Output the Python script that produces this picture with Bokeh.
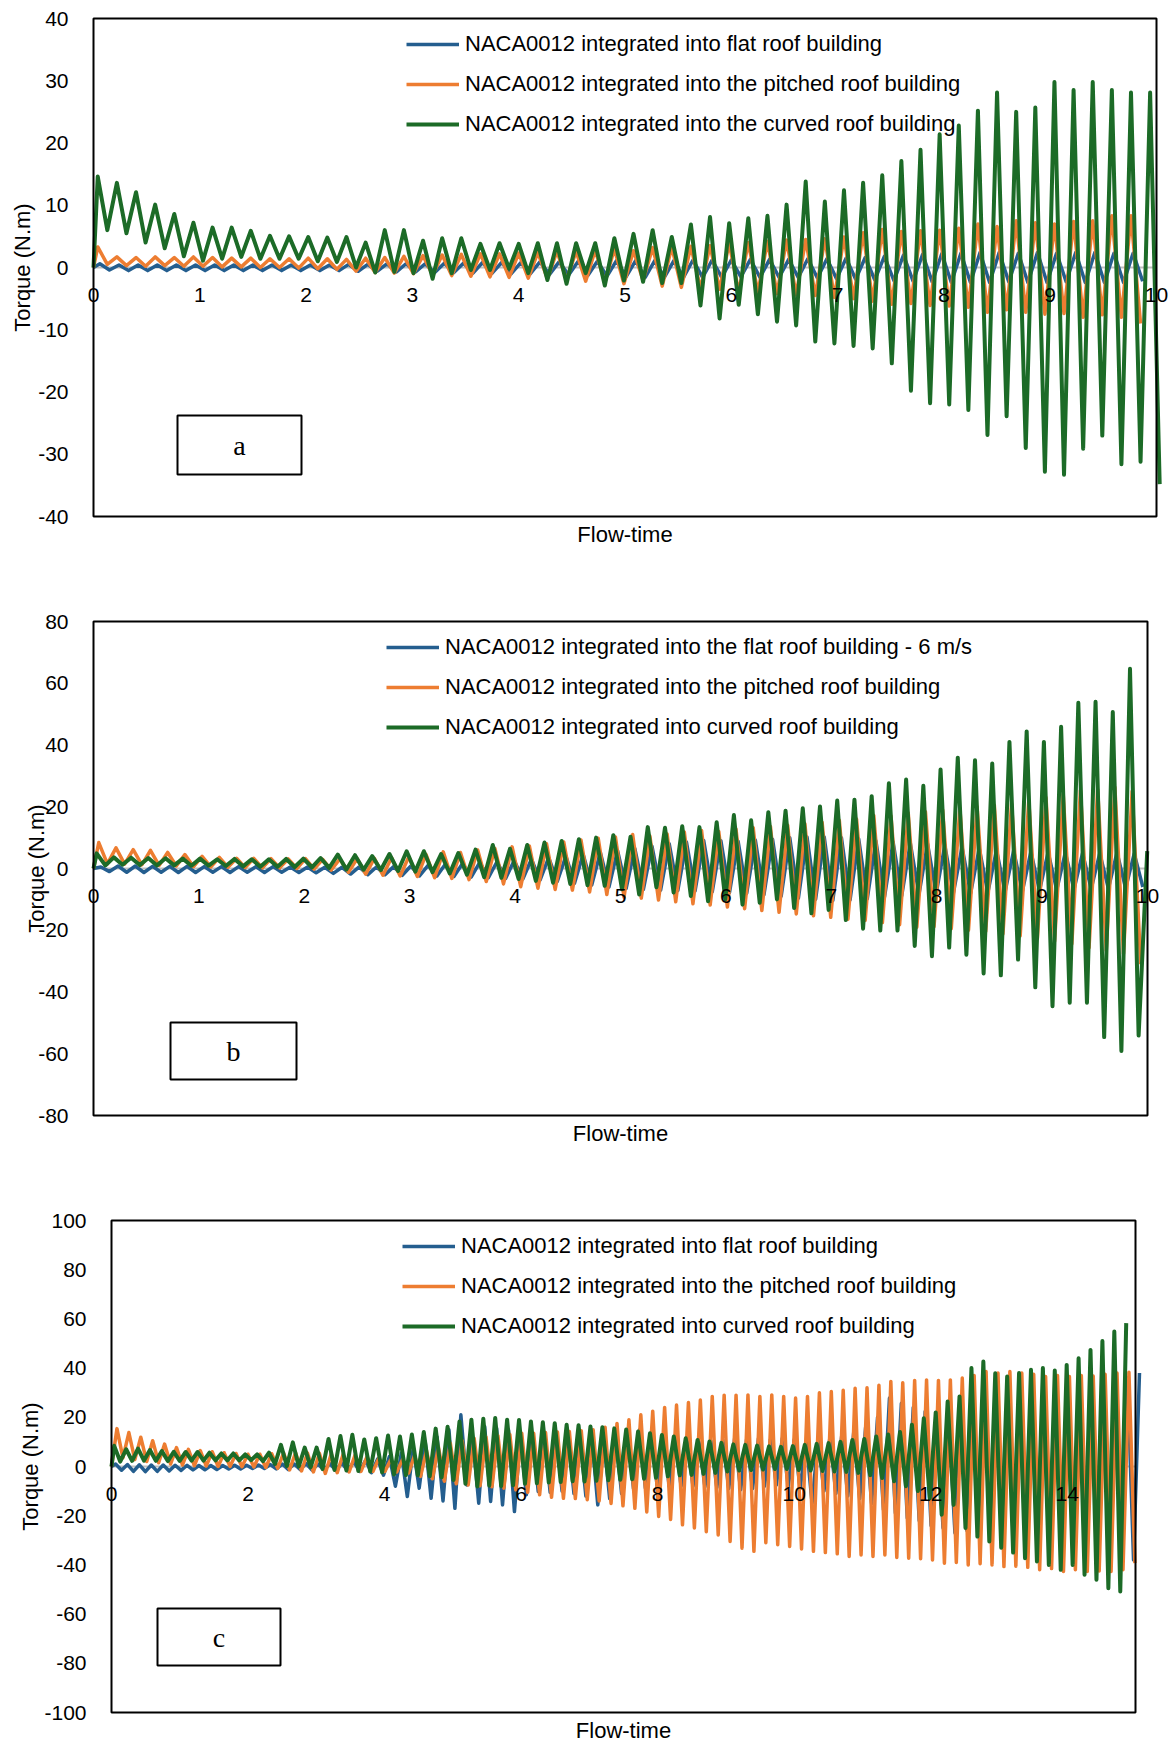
import numpy as np
from bokeh.plotting import figure
from bokeh.models import (Range1d, LinearAxis, FixedTicker, Legend, LegendItem,
                          BoxAnnotation, Label)
from bokeh.embed import file_html
from bokeh.resources import INLINE

# ---------------- data ----------------
# Each series: torque extremes at the solver's sampling of Flow-time
# (first value at t = 0, then one value every DT starting at T0).

# Panel a
A_X_TICKS = [0, 1, 2, 3, 4, 5, 6, 7, 8, 9, 10]
A_Y_TICKS = [-40, -30, -20, -10, 0, 10, 20, 30, 40]
A_DT = 0.09
A_T0 = {"flat": 0.06, "pitched": 0.04, "curved": 0.04}
A_FLAT = [0, 0.6, -0.4, 0.4, -0.5, 0.4, -0.5, 0.4, -0.5, 0.4, -0.5, 0.4, -0.5, 0.4, -0.5, 0.4, -0.5,
          0.4, -0.5, 0.4, -0.5, 0.4, -0.5, 0.4, -0.5, 0.4, -0.5, 0.5, -0.6, 0.5, -0.6, 0.6, -0.7, 0.6,
          -0.7, 0.6, -0.8, 0.7, -0.8, 0.7, -0.9, 0.8, -0.9, 0.8, -1.0, 0.8, -1.0, 0.9, -1.1, 0.9, -1.2,
          1.0, -1.3, 1.0, -1.4, 1.1, -1.5, 1.1, -1.6, 1.1, -1.6, 1.1, -1.6, 1.2, -1.6, 1.2, -1.6, 1.2,
          -1.5, 1.3, -1.6, 1.3, -1.6, 1.3, -1.6, 1.4, -1.7, 1.4, -1.8, 1.5, -1.9, 1.6, -2.0, 1.8, -2.1,
          2.0, -2.2, 2.1, -2.3, 2.2, -2.4, 2.3, -2.4, 2.4, -2.4, 2.4, -2.3, 2.3, -2.4, 2.4, -2.4, 2.3,
          -2.3, 2.4, -2.4, 2.4, -2.4, 2.3, -2.4, 2.3, -2.2]
A_PITCHED = [0, 3.3, 0.5, 1.7, 0.3, 1.6, 0.2, 1.7, 0.3, 1.6, 0.2, 1.7, 0.2, 1.6, 0.1, 1.5, 0.1, 1.5,
             0.0, 1.4, 0.0, 1.4, -0.1, 1.5, -0.2, 1.4, -0.3, 1.3, -0.6, 1.5, -0.8, 1.6, -0.9, 1.8,
             -1.0, 1.9, -1.2, 2.0, -1.3, 2.1, -1.4, 2.2, -1.5, 2.2, -1.6, 2.3, -1.7, 2.4, -1.8, 2.6,
             -2.0, 2.6, -2.2, 2.8, -2.4, 3.0, -2.6, 2.7, -2.1, 3.2, -3.0, 3.3, -3.2, 3.4, -3.4, 3.5,
             -3.5, 3.9, -3.9, 4.0, -4.0, 4.2, -4.2, 4.4, -4.4, 4.5, -4.5, 4.6, -4.8, 4.9, -5.0, 5.6,
             -5.4, 6.1, -5.9, 5.8, -5.8, 5.9, -6.1, 6.0, -6.2, 6.3, -6.4, 7.0, -7.2, 6.6, -6.8, 7.5,
             -7.2, 7.2, -7.5, 7.0, -7.4, 7.4, -8.0, 7.5, -7.6, 8.3, -8.0, 8.3, -9.0]
A_CURVED = [0, 14.6, 6.0, 13.6, 5.5, 12.1, 4.0, 10.1, 3.1, 8.6, 1.8, 7.2, 1.1, 6.4, 1.4, 6.4, 1.7,
            5.9, 1.4, 5.1, 1.4, 5.0, 1.4, 4.9, 1.0, 4.8, 0.9, 4.9, 0.0, 4.0, -0.8, 6.0, -0.7, 6.0,
            -0.9, 4.3, -1.8, 4.7, -0.9, 4.7, -0.4, 3.8, -0.4, 3.9, -0.2, 3.8, -0.9, 3.9, -2.0, 3.9,
            -2.6, 3.9, -0.9, 3.9, -2.9, 4.7, -2.1, 5.4, -2.3, 6.0, -2.5, 4.9, -2.5, 6.9, -6.1, 8.1,
            -8.2, 7.1, -6.0, 7.9, -7.5, 8.3, -8.7, 10.1, -9.3, 13.8, -11.9, 10.6, -12.2, 12.4, -12.6,
            13.6, -13.0, 14.8, -15.4, 17.1, -19.8, 18.9, -21.8, 21.4, -22.0, 22.8, -22.9, 25.2,
            -26.9, 28.1, -23.9, 25.0, -29.0, 25.7, -32.8, 29.8, -33.3, 28.5, -29.1, 29.8, -27.0,
            28.5, -31.6, 28.1, -31.2, 28.1, -34.8]
A_LABELS = ["NACA0012 integrated into flat roof building",
            "NACA0012 integrated into the pitched roof building",
            "NACA0012 integrated into the curved roof building"]

# Panel b
B_X_TICKS = [0, 1, 2, 3, 4, 5, 6, 7, 8, 9, 10]
B_Y_TICKS = [-80, -60, -40, -20, 0, 20, 40, 60, 80]
B_DT = 0.0817
B_T0 = {"flat": 0.07, "pitched": 0.05, "curved": 0.03}
B_FLAT = [0, 0.5, -1.0, 0.8, -1.2, 0.8, -1.3, 0.7, -1.2, 0.7, -1.3, 0.7, -1.3, 0.6, -1.2, 0.6, -1.3,
          0.6, -1.2, 0.6, -1.3, 0.6, -1.2, 0.5, -1.3, 0.5, -1.4, 0.4, -1.6, 0.4, -1.8, 0.5, -2.0, 0.5,
          -2.0, 0.6, -2.2, 0.8, -2.4, 1.0, -2.5, 1.4, -2.6, 1.6, -2.8, 2.0, -3.0, 2.2, -3.2, 2.6,
          -3.4, 3.0, -3.8, 3.5, -4.2, 4.0, -4.8, 4.6, -5.4, 5.2, -6.0, 5.8, -6.4, 6.5, -6.8, 7.2,
          -7.0, 8.0, -7.1, 8.6, -7.3, 9.1, -7.5, 9.0, -7.8, 8.8, -8.0, 9.2, -8.5, 9.5, -9.0, 10.0,
          -9.6, 10.2, -10.0, 10.2, -10.4, 10.0, -10.2, 9.6, -9.8, 9.0, -9.2, 8.6, -8.8, 8.2, -8.4,
          8.0, -8.2, 7.5, -8.0, 7.0, -8.0, 6.5, -7.8, 6.0, -7.6, 5.8, -7.5, 5.5, -7.2, 5.3, -7.0,
          5.2, -6.8, 5.0, -6.6, 5.0, -6.5, 5.2, -6.4, 4.8, -6.0]
B_PITCHED = [0, 8.4, 1.5, 6.7, 1.4, 6.1, 1.2, 5.9, 1.0, 5.2, 0.8, 4.5, 0.6, 3.9, 0.5, 3.6, 0.4, 3.3,
             0.3, 3.3, 0.2, 3.2, 0.2, 3.1, 0.0, 3.2, -0.2, 3.0, -0.5, 3.1, -1.2, 3.2, -1.8, 3.3,
             -2.2, 3.5, -2.4, 3.8, -2.6, 4.6, -3.0, 5.4, -3.2, 5.2, -3.6, 6.0, -4.2, 6.5, -5.0, 7.0,
             -5.9, 7.3, -6.4, 8.0, -6.8, 8.6, -7.0, 9.2, -7.6, 9.8, -8.4, 10.2, -9.3, 11.0, -9.6,
             10.5, -10.2, 11.2, -10.8, 11.8, -11.4, 12.3, -11.8, 12.0, -12.5, 12.8, -13.0, 13.2,
             -13.6, 13.6, -14.2, 14.0, -14.7, 14.5, -15.3, 15.0, -15.8, 15.6, -16.4, 16.0, -16.8,
             17.2, -17.5, 17.0, -18.2, 18.0, -19.0, 18.4, -18.8, 19.0, -19.5, 19.5, -20.0, 20.0,
             -20.4, 20.5, -21.2, 21.0, -21.8, 22.0, -22.6, 23.0, -23.5, 24.0, -24.4, 25.3, -25.6,
             25.6, -26.5, 26.3, -27.6, 25.0, -31.0]
B_CURVED = [0, 4.9, 1.0, 3.6, 1.2, 3.5, 1.1, 3.4, 1.0, 3.3, 1.0, 3.2, 0.9, 3.2, 0.9, 3.0, 0.8, 3.1,
            0.7, 3.0, 0.6, 3.0, 0.6, 3.1, 0.5, 3.2, 0.4, 3.4, 0.2, 4.5, -0.3, 4.3, -0.4, 4.0, -0.5,
            4.7, -0.8, 5.6, -1.0, 5.6, -1.2, 4.7, -1.6, 5.0, -2.0, 6.1, -2.8, 7.6, -3.0, 6.4, -3.4,
            7.6, -4.0, 8.4, -4.6, 8.9, -5.0, 9.5, -5.4, 10.0, -5.6, 10.8, -6.7, 10.3, -8.4, 13.4,
            -6.1, 13.2, -7.8, 13.7, -8.9, 13.4, -10.6, 15.0, -10.0, 17.3, -11.7, 15.6, -11.1, 18.2,
            -10.0, 18.7, -12.8, 19.5, -14.5, 20.1, -13.4, 22.0, -16.7, 22.3, -19.5, 23.4, -20.1,
            27.6, -20.1, 28.8, -25.1, 26.8, -28.4, 32.1, -25.6, 35.9, -27.9, 35.1, -34.0, 34.0,
            -34.6, 41.0, -29.5, 44.4, -38.5, 41.0, -44.6, 45.9, -43.5, 53.7, -43.5, 54.0, -54.6,
            50.7, -59.1, 64.7, -54.1, 5.6]
B_LABELS = ["NACA0012 integrated into the flat roof building - 6 m/s",
            "NACA0012 integrated into the pitched roof building",
            "NACA0012 integrated into curved roof building"]

# Panel c
C_X_TICKS = [0, 2, 4, 6, 8, 10, 12, 14]
C_Y_TICKS = [-100, -80, -60, -40, -20, 0, 20, 40, 60, 80, 100]
C_DT = 0.0872
C_T0 = {"flat": 0.06, "pitched": 0.08, "curved": 0.04}
C_FLAT = [0, 1.0, -1.5, 0.8, -2.0, 0.7, -2.1, 0.6, -2.0, 0.6, -1.8, 0.5, -1.6, 0.5, -1.4, 0.4,
          -1.3, 0.4, -1.2, 0.4, -1.0, 0.5, -1.0, 0.5, -0.8, 0.6, -0.8, 0.8, -1.0, 1.0, -1.2, 1.0,
          -1.2, 1.2, -1.4, 1.0, -1.4, 1.2, -1.6, 1.5, -1.8, 2.0, -2.0, 2.5, -2.5, 3.0, -3.5, 4.0,
          -8.0, 5.5, -12.2, 7.5, -8.8, 10.2, -12.9, 12.0, -14.0, 14.9, -17.0, 21.0, -7.5, 11.5,
          -14.9, 16.3, -14.2, 15.6, -15.6, 14.9, -18.3, 12.0, -11.5, 13.5, -10.2, 13.0, -10.5,
          13.5, -10.0, 12.5, -11.0, 12.0, -12.0, 11.5, -15.6, 11.0, -13.0, 12.5, -11.0, 14.9, -9.0,
          14.9, -8.8, 13.0, -8.5, 12.0, -8.0, 11.0, -8.0, 10.5, -8.0, 10.0, -8.2, 10.5, -8.5, 11.0,
          -9.0, 11.5, -9.5, 11.0, -9.0, 11.5, -8.0, 11.0, -7.5, 11.5, -8.0, 11.0, -9.0, 10.5,
          -15.0, 11.0, -10.0, 12.0, -11.0, 13.0, -12.0, 14.0, -13.0, 16.0, -15.0, 20.0, -17.6,
          27.8, -19.0, 25.7, -21.0, 24.0, -22.0, 22.4, -24.0, 19.6, -25.0, 18.0, -27.0, 20.0,
          -26.0, 24.0, -28.0, 27.0, -29.0, 29.0, -30.0, 30.0, -31.0, 31.0, -31.8, 31.8, -32.0,
          32.0, -32.0, 31.8, -33.0, 32.0, -33.0, 33.0, -34.0, 34.0, -35.0, 35.0, -36.0, 36.0,
          -37.0, 36.0, -38.0, 38.0]
C_PITCHED = [0, 15.4, 3.5, 13.8, 2.8, 11.9, 2.0, 10.5, 1.5, 9.1, 1.0, 7.7, 0.6, 7.0, 0.3, 6.5, 0.2,
             6.0, 0.0, 5.6, 0.0, 5.3, -0.1, 5.0, -0.2, 5.0, -0.4, 5.2, -0.8, 5.5, -1.4, 5.6, -1.8,
             5.5, -2.2, 5.4, -2.8, 5.2, -2.5, 5.0, -2.2, 4.6, -2.0, 4.0, -2.0, 3.4, -2.0, 2.8, -2.2,
             3.0, -2.6, 4.5, -4.0, 6.5, -5.0, 8.0, -6.0, 9.5, -7.0, 10.5, -7.5, 11.5, -7.8, 12.0,
             -8.2, 12.5, -8.8, 13.0, -9.5, 13.5, -10.5, 13.5, -11.5, 13.8, -12.5, 14.0, -12.9, 14.2,
             -13.0, 14.5, -13.5, 14.9, -14.0, 16.0, -15.0, 17.5, -16.0, 19.0, -17.0, 21.0, -18.5,
             22.5, -20.3, 24.0, -21.5, 25.0, -23.7, 26.0, -25.0, 27.0, -26.5, 28.5, -27.8, 29.0,
             -30.5, 29.0, -33.2, 29.1, -34.5, 28.5, -31.0, 29.1, -31.8, 28.5, -32.5, 27.8, -33.5,
             28.5, -34.5, 30.0, -35.0, 30.5, -35.5, 31.0, -36.6, 31.8, -36.0, 32.0, -36.6, 33.0,
             -36.0, 34.6, -37.0, 34.0, -37.3, 35.0, -37.5, 35.2, -38.0, 35.0, -39.3, 35.2, -39.0,
             36.0, -40.0, 37.0, -39.5, 38.6, -40.0, 38.0, -40.7, 38.6, -40.5, 38.0, -41.0, 37.5,
             -42.0, 36.6, -41.5, 37.0, -42.7, 36.6, -42.0, 37.0, -42.7, 36.8, -42.5, 37.5, -42.7,
             38.0, -42.0, 38.3, -39.3]
C_CURVED = [0, 8.4, 2.0, 7.0, 2.3, 7.3, 2.4, 6.7, 2.3, 6.3, 2.2, 6.0, 2.3, 5.9, 2.4, 5.9, 2.4, 5.6,
            2.5, 5.3, 2.5, 5.3, 2.5, 4.9, 2.6, 4.9, 2.2, 5.6, 1.0, 8.8, 0.2, 9.8, 0.0, 7.7, -0.3,
            7.7, -1.0, 11.2, -1.4, 12.4, -1.6, 12.9, -1.8, 11.0, -2.0, 11.5, -2.4, 12.6, -3.2,
            12.2, -3.5, 13.0, -3.6, 14.0, -4.0, 15.4, -4.4, 16.2, -5.5, 18.3, -7.0, 19.0, -8.1,
            19.4, -7.8, 19.7, -8.0, 19.0, -7.6, 18.9, -7.0, 18.3, -6.8, 18.0, -6.5, 17.6, -6.3,
            17.0, -6.0, 16.8, -6.1, 16.3, -5.8, 16.0, -5.6, 15.5, -5.4, 15.0, -5.2, 14.2, -5.0,
            13.5, -4.6, 12.8, -4.0, 12.2, -3.6, 11.5, -3.4, 10.8, -3.0, 10.2, -2.6, 9.6, -2.0, 9.0,
            -1.6, 8.8, -1.4, 8.5, -1.2, 8.2, -1.0, 8.0, -1.0, 8.3, -1.4, 8.8, -1.6, 9.2, -1.8, 9.5,
            -2.0, 10.0, -2.2, 10.8, -2.6, 11.2, -3.5, 12.2, -4.7, 13.0, -6.0, 14.0, -8.0, 17.0,
            -10.0, 19.6, -13.0, 22.0, -19.6, 26.4, -15.6, 28.5, -25.0, 40.0, -28.5, 42.7, -30.5,
            37.9, -33.0, 36.6, -35.0, 38.0, -37.3, 39.3, -38.6, 40.0, -40.0, 39.0, -42.0, 41.3,
            -40.0, 44.0, -44.0, 47.4, -46.0, 51.0, -49.5, 54.9, -50.8, 58.3]
C_LABELS = ["NACA0012 integrated into flat roof building",
            "NACA0012 integrated into the pitched roof building",
            "NACA0012 integrated into curved roof building"]

# ---------------- styling ----------------
BLUE = "#245E8F"
ORANGE = "#ED7D31"
GREEN = "#1C6B27"
SANS = "Liberation Sans"
SERIF = "Liberation Serif"
FIG_W = 1174


def times(t0, dt, n):
    return np.concatenate([[0.0], t0 + dt * np.arange(n - 1)])


def panel(fig_h, box_px, xmax, yr, xticks, yticks, dt, t0s, series, labels,
          legend_x, tag_box, letter, ytitle_x, xtitle_from_bottom):
    # The Bokeh frame covers the whole canvas; box_px is the plot-area rectangle
    # (left, right, top, bottom) in canvas pixels, and the ranges are set so the
    # data box [0, xmax] x [ymin, ymax] lands exactly there.
    bl, br, bt, bb = box_px
    ymin, ymax = yr
    upp_x = xmax / (br - bl)
    upp_y = (ymax - ymin) / (bb - bt)
    p = figure(width=FIG_W, height=fig_h,
               x_range=Range1d(-bl * upp_x, xmax + (FIG_W - br) * upp_x),
               y_range=Range1d(ymin - (fig_h - bb) * upp_y, ymax + bt * upp_y),
               x_axis_type=None, y_axis_type=None, output_backend="svg",
               toolbar_location=None, min_border_left=0, min_border_right=0,
               min_border_top=0, min_border_bottom=0)
    p.outline_line_color = None
    p.background_fill_color = "white"
    p.border_fill_color = "white"

    yax = LinearAxis(fixed_location=0, ticker=FixedTicker(ticks=yticks),
                     major_tick_line_color=None, minor_tick_line_color=None,
                     axis_line_color=None, major_label_standoff=19,
                     major_label_text_font=SANS, major_label_text_font_size="21px",
                     major_label_text_color="black",
                     major_label_overrides={t: str(t) for t in yticks})
    p.add_layout(yax, "left")
    xax = LinearAxis(fixed_location=0, ticker=FixedTicker(ticks=xticks),
                     major_tick_line_color=None, minor_tick_line_color=None,
                     axis_line_color=None, major_label_standoff=14,
                     major_label_text_font=SANS, major_label_text_font_size="21px",
                     major_label_text_color="black",
                     major_label_overrides={t: str(t) for t in xticks})
    p.add_layout(xax, "below")

    # zero line (category axis line) across the plot area
    p.segment(x0=[0], x1=[xmax], y0=[0], y1=[0], line_color="#BFBFBF", line_width=2)

    rends = []
    for key, color, lw in (("flat", BLUE, 3.5), ("pitched", ORANGE, 3.5), ("curved", GREEN, 4)):
        vals = series[key]
        r = p.line(times(t0s[key], dt, len(vals)), vals, line_color=color, line_width=lw,
                   line_join="round")
        rends.append(r)

    # plot-area border
    p.add_layout(BoxAnnotation(left=0, right=xmax, bottom=ymin, top=ymax, fill_alpha=0,
                               line_color="black", line_width=2, line_alpha=1))

    gh, sp = 26, 14
    leg_h = 3 * gh + 2 * sp
    legend = Legend(items=[LegendItem(label=l, renderers=[r]) for l, r in zip(labels, rends)],
                    location=(legend_x, fig_h - (bt + 13) - leg_h), orientation="vertical",
                    label_text_font=SANS, label_text_font_size="22px",
                    label_text_color="black", glyph_width=53, glyph_height=gh,
                    label_height=gh, spacing=sp, padding=0, margin=0, label_standoff=6,
                    background_fill_alpha=0, border_line_alpha=0)
    p.add_layout(legend)

    left, right, top, bottom = tag_box
    p.add_layout(BoxAnnotation(left=left, right=right, top=fig_h - top, bottom=fig_h - bottom,
                               left_units="screen", right_units="screen",
                               top_units="screen", bottom_units="screen",
                               fill_color="white", fill_alpha=1, line_color="black",
                               line_width=2, line_alpha=1))
    p.add_layout(Label(x=(left + right) / 2, y=fig_h - (top + bottom) / 2,
                       x_units="screen", y_units="screen", text=letter, text_font=SERIF,
                       text_font_size="28px", text_align="center",
                       text_baseline="middle", text_color="black"))
    p.add_layout(Label(x=ytitle_x, y=fig_h - (bt + bb) / 2, x_units="screen",
                       y_units="screen", text="Torque (N.m)", angle=np.pi / 2,
                       text_font=SANS, text_font_size="22px", text_align="center",
                       text_baseline="middle", text_color="black"))
    p.add_layout(Label(x=(bl + br) / 2, y=xtitle_from_bottom, x_units="screen",
                       y_units="screen", text="Flow-time", text_font=SANS,
                       text_font_size="22px", text_align="center",
                       text_baseline="middle", text_color="black"))
    return p


# positions below are in each figure's own pixels (from its top-left corner)
pa = panel(560, (93, 1156, 18, 516), 10, (-40, 40), A_X_TICKS, A_Y_TICKS, A_DT, A_T0,
           {"flat": A_FLAT, "pitched": A_PITCHED, "curved": A_CURVED}, A_LABELS,
           406, (177, 301, 415, 474), "a", 22, 26)
pb = panel(602, (93, 1147, 61, 555), 10, (-80, 80), B_X_TICKS, B_Y_TICKS, B_DT, B_T0,
           {"flat": B_FLAT, "pitched": B_PITCHED, "curved": B_CURVED}, B_LABELS,
           386, (170, 296, 462, 519), "b", 36, 29)
pc = panel(581, (111, 1135, 58, 550), 15, (-100, 100), C_X_TICKS, C_Y_TICKS, C_DT, C_T0,
           {"flat": C_FLAT, "pitched": C_PITCHED, "curved": C_CURVED}, C_LABELS,
           402, (157, 280, 446, 503), "c", 30, 13)

open("out.html", "w").write(file_html([pa, pb, pc], INLINE))
